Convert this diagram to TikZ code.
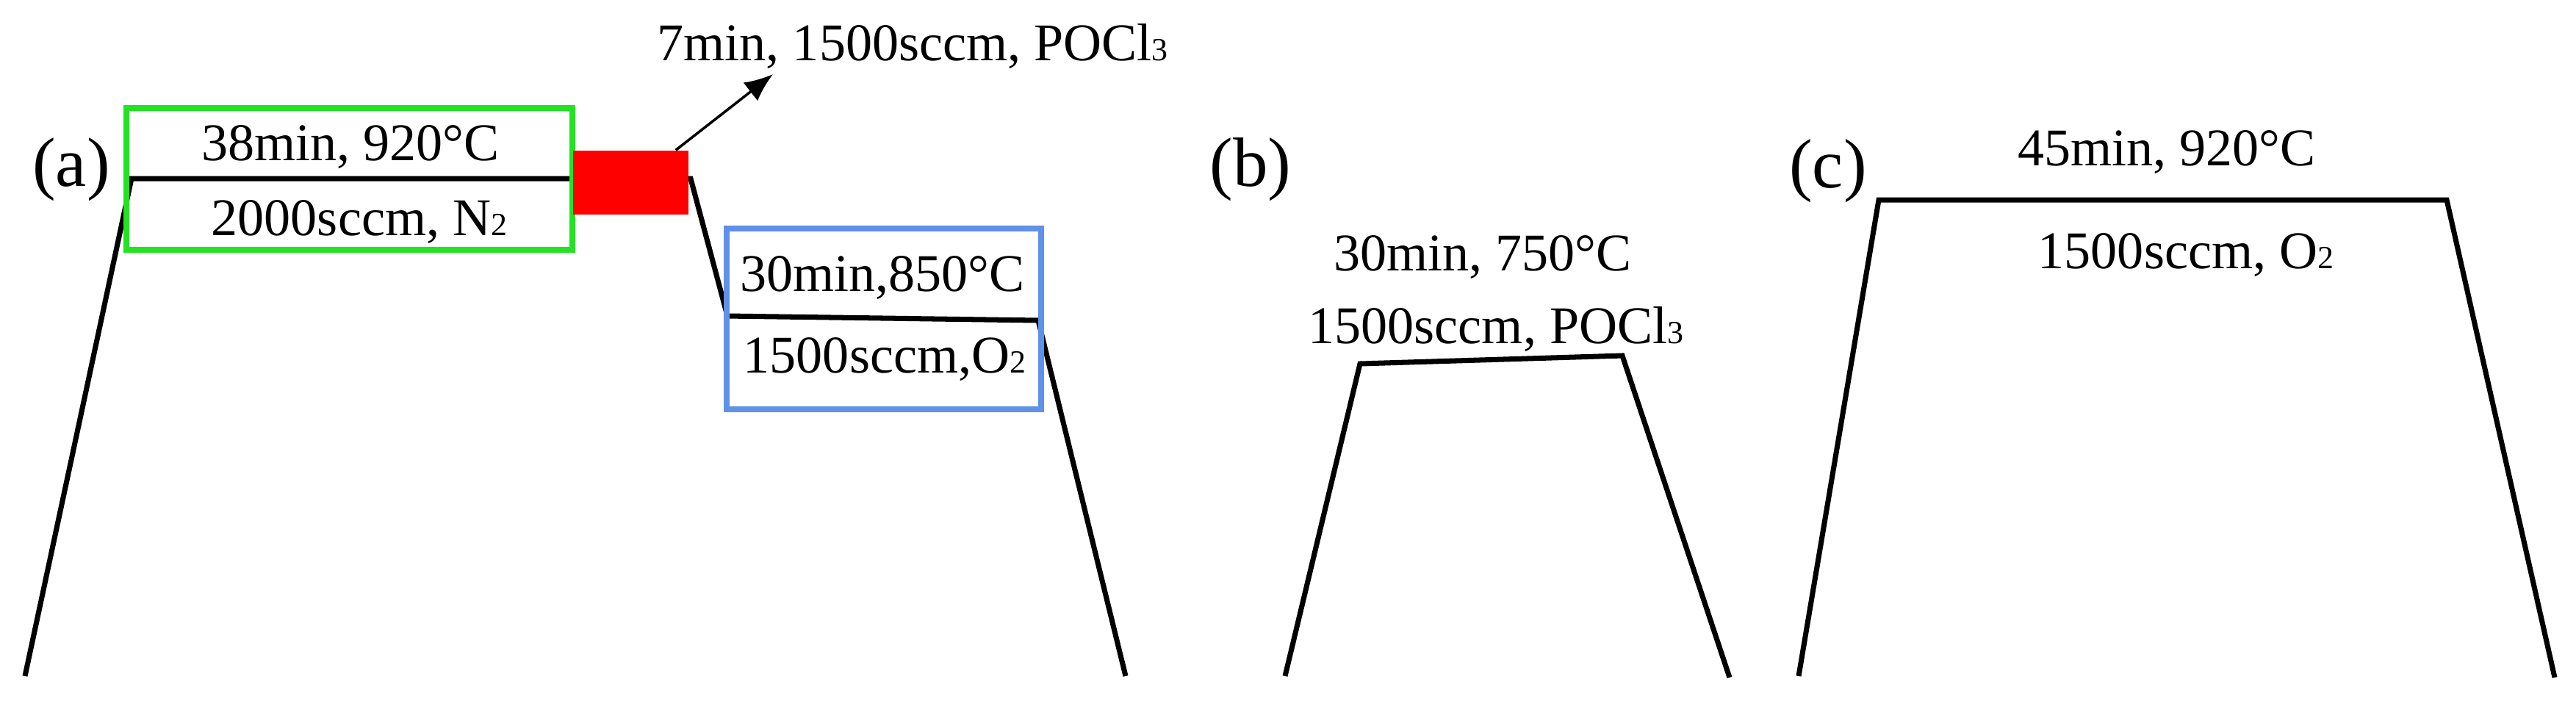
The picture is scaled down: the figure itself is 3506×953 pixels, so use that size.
\documentclass[tikz,border=0pt]{standalone}
\usepackage{fontspec}
\setmainfont{Liberation Serif}
\usetikzlibrary{arrows.meta,positioning}
\definecolor{stagegreen}{RGB}{34,226,34}
\definecolor{stageblue}{RGB}{96,145,232}
\newcommand{\idx}[1]{{\fontsize{12.5}{12.5}\selectfont #1}}

\begin{document}
\begin{tikzpicture}[
x=0.01cm,
y=-0.01cm,
profile/.style={
  line width=2pt,
  line join=miter
  },
lbl/.style={
  font=\fontsize{20.5}{24}\selectfont,
  anchor=base,
  inner sep=0pt
  },
tag/.style={
  font=\fontsize{27}{32}\selectfont,
  inner sep=0pt
  },
stage/.style={
  draw,
  line width=2.3pt,
  inner sep=0pt
  },
>={Latex[length=11pt,width=9pt]}
]
\useasboundingbox (0,0) rectangle (3506,953);

% (a) diffusion profile
\coordinate (a0) at (34,920);
\coordinate (a1) at (179,243);
\coordinate (a2) at (940,243);
\coordinate (a3) at (990,430);
\coordinate (a4) at (1413,436);
\coordinate (a5) at (1532,920);
\draw[profile] (a0) -- (a1) -- (a2) -- (a3) -- (a4) -- (a5);

\node[stage, draw=stagegreen, minimum width=6.07cm, minimum height=1.93cm] at (475.5,243.5)
  (drive) {};
\node[fill=red, minimum width=1.57cm, minimum height=0.87cm, inner sep=0pt] at (858.5,248.5)
  (dep) {};
\node[stage, draw=stageblue, minimum width=4.28cm, minimum height=2.46cm] at (1203,434)
  (oxi) {};

\node[lbl] at (477,218) (ta1) {38min, 920°C};
\node[lbl] at (489,320) (ta2) {2000sccm, N\idx{2}};
\node[lbl] at (1201,396) (ta3) {30min,850°C};
\node[lbl] at (1204,507) (ta4) {1500sccm,O\idx{2}};
\node[lbl, anchor=base west] at (894,82) (ta5) {7min, 1500sccm, POCl\idx{3}};

\coordinate (tip) at (1052,101);
\draw[->, line width=1pt] ([xshift=-0.18cm]dep.north east) -- (tip);

\node[tag] at (97,231) (la) {(a)};

% (b)
\coordinate (b0) at (1749,920);
\coordinate (b1) at (1851,495);
\coordinate (b2) at (2208,484);
\coordinate (b3) at (2354,922);
\draw[profile] (b0) -- (b1) -- (b2) -- (b3);

\node[lbl] at (2018,368) (tb1) {30min, 750°C};
\node[lbl] at (2036,467) (tb2) {1500sccm, POCl\idx{3}};
\node[tag] at (1702,231) (lb) {(b)};

% (c)
\coordinate (c0) at (2448,920);
\coordinate (c1) at (2557,272);
\coordinate (c2) at (3330,272);
\coordinate (c3) at (3477,922);
\draw[profile] (c0) -- (c1) -- (c2) -- (c3);

\node[lbl] at (2949,225) (tc1) {45min, 920°C};
\node[lbl] at (2975,365) (tc2) {1500sccm, O\idx{2}};
\node[tag] at (2488,233) (lc) {(c)};

\end{tikzpicture}
\end{document}
